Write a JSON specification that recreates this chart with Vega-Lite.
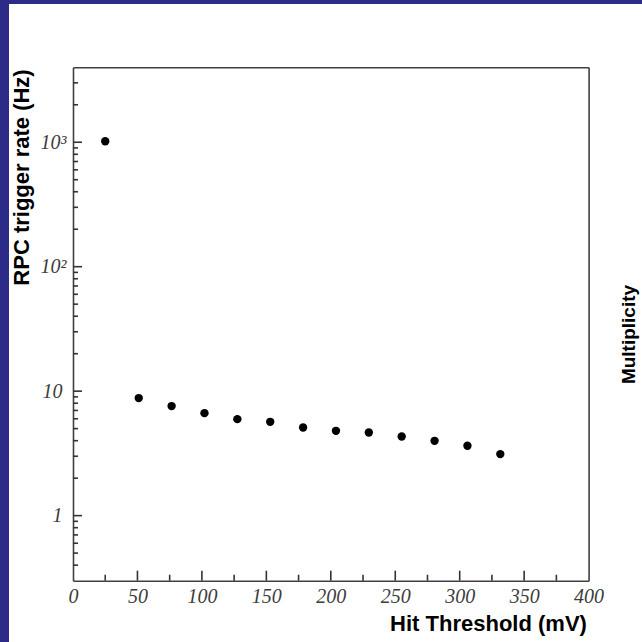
{
  "$schema": "https://vega.github.io/schema/vega-lite/v6.json",
  "width": 633,
  "height": 638,
  "autosize": "none",
  "padding": {"left": 9, "top": 4, "right": 0, "bottom": 0},
  "background": "#2c2c88",
  "config": {
    "view": {"fill": "white", "stroke": null},
    "axis": {"grid": false, "domainColor": "#404040", "domainWidth": 1.6}
  },
  "datasets": {
    "points": [
      {"thr": 25, "rate": 1019},
      {"thr": 51, "rate": 8.8},
      {"thr": 76.5, "rate": 7.59},
      {"thr": 102, "rate": 6.66},
      {"thr": 127.5, "rate": 5.96},
      {"thr": 153, "rate": 5.67},
      {"thr": 178.5, "rate": 5.1},
      {"thr": 204, "rate": 4.8},
      {"thr": 229.5, "rate": 4.65},
      {"thr": 255, "rate": 4.32},
      {"thr": 280.5, "rate": 3.99},
      {"thr": 306, "rate": 3.64},
      {"thr": 331.5, "rate": 3.12}
    ],
    "xmajor": [{"v": 50}, {"v": 100}, {"v": 150}, {"v": 200}, {"v": 250}, {"v": 300}, {"v": 350}],
    "xminor": [{"v": 25}, {"v": 75}, {"v": 125}, {"v": 175}, {"v": 225}, {"v": 275}, {"v": 325}, {"v": 375}],
    "ymajor": [{"v": 1}, {"v": 10}, {"v": 100}, {"v": 1000}],
    "yminor": [{"v": 0.4}, {"v": 0.5}, {"v": 0.6}, {"v": 0.7}, {"v": 0.8}, {"v": 0.9},
      {"v": 2}, {"v": 3}, {"v": 4}, {"v": 5}, {"v": 6}, {"v": 7}, {"v": 8}, {"v": 9},
      {"v": 20}, {"v": 30}, {"v": 40}, {"v": 50}, {"v": 60}, {"v": 70}, {"v": 80}, {"v": 90},
      {"v": 200}, {"v": 300}, {"v": 400}, {"v": 500}, {"v": 600}, {"v": 700}, {"v": 800}, {"v": 900},
      {"v": 2000}, {"v": 3000}]
  },
  "layer": [
    {
      "data": {"name": "points"},
      "mark": {"type": "circle", "size": 70, "color": "black", "opacity": 1},
      "encoding": {
        "x": {
          "field": "thr", "type": "quantitative",
          "scale": {"domain": [0, 400], "range": [64, 579.6], "nice": false, "zero": false},
          "axis": {
            "orient": "bottom", "offset": -61.3,
            "values": [0,50,100,150,200,250,300,350,400],
            "format": "d",
            "ticks": false,
            "labelPadding": 6,
            "labelFont": "Liberation Serif", "labelFontStyle": "italic", "labelFontSize": 20, "labelColor": "#3c3c3c",
            "labelFlush": false, "labelOverlap": false,
            "title": "Hit Threshold (mV)",
            "titleX": 577.4, "titleY": 49.8, "titleAlign": "right", "titleBaseline": "alphabetic",
            "titleFont": "Liberation Sans", "titleFontSize": 22, "titleFontWeight": "bold", "titleColor": "black"
          }
        },
        "y": {
          "field": "rate", "type": "quantitative",
          "scale": {"type": "log", "domain": [0.3, 4000], "range": [576.7, 63.3], "nice": false},
          "axis": {
            "orient": "left", "offset": -64,
            "values": [1, 10, 100, 1000],
            "labelExpr": "datum.value == 1000 ? '10³' : datum.value == 100 ? '10²' : datum.value == 10 ? '10' : '1'",
            "ticks": false,
            "labelPadding": {"condition": {"test": "datum.value >= 100", "value": 7}, "value": 11},
            "labelAlign": "right", "labelBaseline": "middle",
            "labelFont": "Liberation Serif", "labelFontStyle": "italic", "labelFontSize": 20, "labelColor": "#3c3c3c",
            "labelFlush": false, "labelOverlap": false,
            "title": "RPC trigger rate (Hz)",
            "titleX": -44.5, "titleY": 173, "titleAngle": 270, "titleAlign": "center", "titleBaseline": "alphabetic",
            "titleFont": "Liberation Sans", "titleFontSize": 22, "titleFontWeight": "bold", "titleColor": "black"
          }
        }
      }
    },
    {
      "data": {"name": "points"},
      "mark": {"type": "circle", "opacity": 0},
      "encoding": {
        "x": {"field": "thr", "type": "quantitative",
          "axis": {"orient": "top", "offset": -63.3, "ticks": false, "labels": false, "title": null}},
        "y": {"field": "rate", "type": "quantitative",
          "axis": {"orient": "right", "offset": -53.4, "ticks": false, "labels": false, "title": null}}
      }
    },
    {
      "data": {"name": "points"},
      "mark": {"type": "circle", "opacity": 0},
      "encoding": {
        "x": {"field": "thr", "type": "quantitative", "axis": null},
        "y": {"field": "rate", "type": "quantitative",
          "axis": {"orient": "right", "offset": 0, "domain": false, "ticks": false, "labels": false,
            "title": "Multiplicity", "titleX": -8, "titleY": 330, "titleAngle": 270, "titleAlign": "center", "titleBaseline": "alphabetic",
            "titleFont": "Liberation Sans", "titleFontSize": 19, "titleFontWeight": "bold", "titleColor": "black"}}
      }
    },
    {
      "data": {"name": "xmajor"},
      "mark": {"type": "rule", "strokeWidth": 1.6, "color": "#333333", "opacity": 1},
      "encoding": {
        "x": {"field": "v", "type": "quantitative", "axis": null},
        "y": {"datum": 0.3, "type": "quantitative", "axis": null},
        "y2": {"datum": 0.361}
      }
    },
    {
      "data": {"name": "xminor"},
      "mark": {"type": "rule", "strokeWidth": 1.6, "color": "#333333", "opacity": 1},
      "encoding": {
        "x": {"field": "v", "type": "quantitative", "axis": null},
        "y": {"datum": 0.3, "type": "quantitative", "axis": null},
        "y2": {"datum": 0.335}
      }
    },
    {
      "data": {"name": "ymajor"},
      "mark": {"type": "rule", "strokeWidth": 1.6, "color": "#333333", "opacity": 1},
      "encoding": {
        "y": {"field": "v", "type": "quantitative", "axis": null},
        "x": {"datum": 0, "type": "quantitative", "axis": null},
        "x2": {"datum": 7}
      }
    },
    {
      "data": {"name": "yminor"},
      "mark": {"type": "rule", "strokeWidth": 1.6, "color": "#333333", "opacity": 1},
      "encoding": {
        "y": {"field": "v", "type": "quantitative", "axis": null},
        "x": {"datum": 0, "type": "quantitative", "axis": null},
        "x2": {"datum": 3.9}
      }
    }
  ],
  "resolve": {"axis": {"x": "independent", "y": "independent"}}
}
